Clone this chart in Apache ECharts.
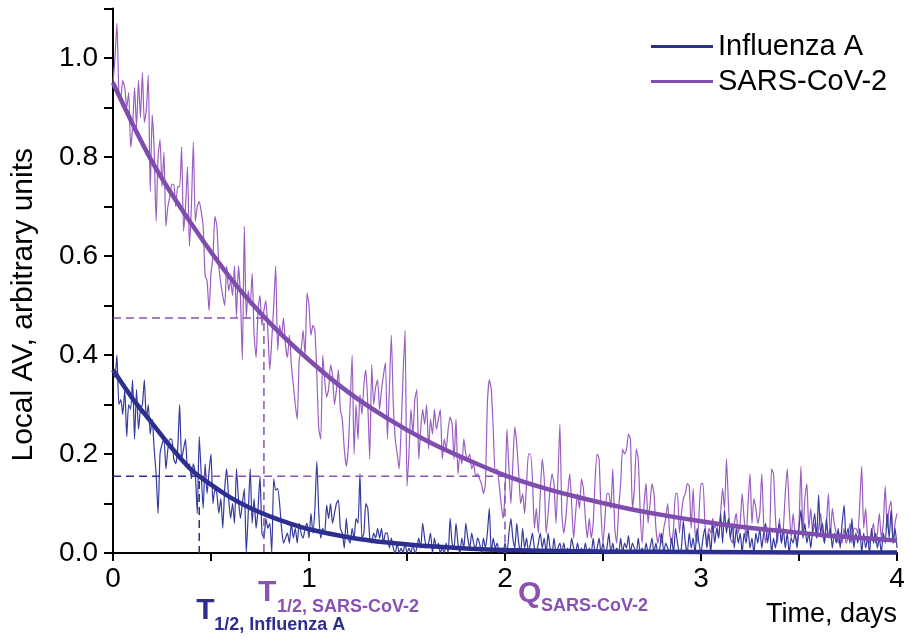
<!DOCTYPE html>
<html>
<head>
<meta charset="utf-8">
<script src="https://cdn.jsdelivr.net/npm/echarts@6/dist/echarts.min.js"></script>
<style>html,body{margin:0;padding:0;background:#fff}#c{width:910px;height:644px}</style>
</head>
<body>
<div id="c"></div>
<script>
// ---- data ----
const timeStep = 0.01; // days between noisy samples
const sarsNoise = [
.95,1.0,1.07,.93,.92,.955,.94,.90,.93,.82,
.86,.94,.86,.955,.88,.97,.87,.895,.965,.73,
.885,.815,.67,.80,.835,.74,.81,.66,.70,.72,
.745,.745,.70,.74,.74,.82,.65,.70,.78,.62,
.70,.83,.67,.70,.71,.69,.66,.56,.55,.49,
.565,.60,.68,.66,.58,.545,.52,.50,.58,.53,
.55,.52,.58,.477,.58,.52,.39,.66,.475,.53,
.50,.565,.44,.395,.49,.52,.46,.49,.51,.45,
.37,.43,.50,.58,.41,.46,.44,.475,.42,.395,
.44,.38,.34,.30,.27,.39,.41,.45,.40,.525,
.50,.44,.46,.45,.36,.25,.23,.40,.35,.315,
.33,.38,.36,.30,.33,.37,.29,.27,.21,.175,
.21,.30,.40,.20,.30,.23,.32,.28,.34,.37,
.30,.19,.38,.30,.335,.35,.29,.33,.36,.385,
.23,.33,.44,.30,.23,.20,.17,.25,.36,.45,
.135,.20,.29,.24,.31,.33,.19,.25,.29,.26,
.30,.21,.27,.24,.29,.25,.27,.29,.19,.23,
.21,.25,.275,.26,.19,.27,.16,.20,.18,.23,
.20,.19,.20,.17,.18,.155,.16,.15,.14,.12,
.14,.30,.35,.33,.25,.16,.17,.14,.10,.07,
.12,.25,.17,.10,.18,.255,.22,.16,.10,.12,
.08,.14,.20,.20,.15,.05,.09,.04,.12,.19,
.15,.04,.08,.13,.16,.14,.06,.15,.26,.08,
.04,.07,.12,.16,.10,.03,.08,.12,.09,.15,
.13,.07,.03,.07,.03,.06,.15,.20,.19,.08,
.02,.07,.12,.12,.09,.17,.05,.02,.09,.14,
.21,.20,.21,.24,.23,.09,.13,.21,.19,.08,
.02,.10,.14,.06,.10,.14,.12,.05,.02,.04,
.02,.05,.07,.10,.04,.02,.05,.12,.12,.04,
.08,.11,.12,.14,.135,.05,.13,.04,.02,.08,
.14,.14,.06,.02,.05,.04,.07,.05,.06,.03,
.08,.13,.09,.19,.10,.03,.02,.06,.08,.04,
.06,.12,.07,.03,.10,.16,.06,.11,.09,.06,
.08,.16,.06,.02,.05,.04,.17,.16,.07,.02,
.07,.02,.05,.12,.17,.09,.03,.08,.04,.02,
.06,.175,.04,.11,.14,.05,.09,.04,.06,.03,
.05,.08,.04,.02,.06,.12,.03,.09,.06,.04,
.02,.04,.02,.05,.02,.03,.06,.02,.05,.05,
.04,.10,.175,.05,.09,.03,.02,.04,.06,.02,
.04,.08,.03,.06,.135,.05,.09,.105,.02,.06,.08
];
const fluNoise = [
.36,.355,.40,.30,.31,.28,.33,.235,.30,.29,
.35,.23,.33,.25,.29,.30,.35,.27,.30,.24,
.27,.21,.16,.08,.20,.22,.23,.17,.21,.23,
.23,.19,.18,.21,.30,.19,.21,.23,.17,.18,
.15,.18,.16,.08,.235,.16,.09,.18,.12,.165,
.20,.10,.13,.12,.08,.11,.05,.13,.17,.11,
.07,.10,.06,.17,.11,.07,.10,.13,.00,.08,
.17,.06,.11,.05,.09,.155,.04,.03,.07,.05,
.06,.00,.15,.127,.13,.10,.05,.02,.03,.04,
.02,.06,.03,.05,.02,.06,.04,.03,.05,.06,
.03,.08,.04,.09,.185,.08,.03,.05,.04,.097,
.07,.10,.06,.08,.10,.107,.05,.04,.01,.07,
.03,.02,.05,.03,.07,.06,.16,.03,.04,.10,
.09,.03,.02,.04,.03,.05,.03,.05,.02,.04,
.04,.01,.03,.01,.00,.02,.00,.01,.00,.02,
.00,.01,.00,.02,.00,.01,.03,.01,.06,.03,
.01,.02,.04,.00,.03,.01,.02,.00,.01,.00,
.02,.00,.07,.02,.01,.06,.02,.00,.03,.01,
.06,.03,.01,.04,.02,.01,.03,.02,.00,.03,
.01,.04,.09,.00,.03,.01,.02,.00,.01,.00,
.02,.00,.04,.07,.03,.01,.06,.02,.00,.05,
.01,.03,.00,.02,.04,.01,.00,.02,.04,.01,
.03,.00,.04,.01,.00,.03,.00,.01,.02,.00,
.02,.00,.01,.00,.03,.01,.00,.02,.00,.01,
.00,.02,.00,.01,.00,.03,.00,.01,.03,.00,
.02,.00,.01,.04,.00,.02,.00,.01,.00,.03,
.00,.02,.01,.035,.00,.02,.01,.00,.03,.00,
.01,.00,.02,.00,.01,.03,.00,.02,.00,.01,
.04,.00,.02,.01,.00,.03,.00,.05,.02,.00,
.01,.065,.02,.00,.04,.01,.03,.00,.05,.02,
.00,.03,.05,.01,.04,.00,.06,.02,.05,.03,
.08,.02,.087,.04,.07,.03,.06,.01,.05,.02,
.04,.00,.04,.02,.05,.01,.03,.00,.04,.02,
.05,.01,.04,.06,.02,.05,.00,.03,.01,.04,
.06,.02,.05,.01,.04,.00,.03,.02,.04,.01,
.05,.087,.03,.06,.02,.04,.01,.05,.08,.03,
.117,.04,.06,.02,.07,.03,.05,.01,.04,.02,
.05,.01,.06,.097,.03,.05,.02,.07,.01,.04,
.02,.05,.00,.04,.01,.03,.00,.05,.02,.04,
.01,.03,.00,.04,.02,.08,.03,.087,.02,.05,.01
];
const sarsFitT = [0,0.2,0.4,0.6,0.8,1.0,1.2,1.4,1.6,1.8,2.0,2.2,2.4,2.6,2.8,3.0,3.2,3.4,3.6,3.8,4.0];
const sarsFit  = [0.95,0.79,0.665,0.555,0.465,0.39,0.325,0.272,0.227,0.19,0.157,0.131,0.11,0.092,0.077,0.064,0.053,0.045,0.037,0.031,0.025];
const fluFitT = [0,0.1,0.2,0.3,0.4,0.5,0.6,0.7,0.8,0.9,1.0,1.2,1.4,1.6,1.8,2.0,2.5,3.0,3.5,4.0];
const fluFit  = [0.37,0.312,0.262,0.212,0.168,0.138,0.112,0.091,0.074,0.06,0.048,0.032,0.021,0.014,0.009,0.006,0.003,0.002,0.001,0.001];
const sarsHalf = [0.77, 0.475];   // T1/2 SARS-CoV-2
const fluHalf  = [0.44, 0.155];   // T1/2 Influenza A
const sarsQ    = [2.0, 0.155];    // Q SARS-CoV-2
const xTickLabels = ['0','1','2','3','4'];
const yTickLabels = ['0.0','0.2','0.4','0.6','0.8','1.0'];
const seriesNames = ['Influenza A','SARS-CoV-2'];

// ---- styles ----
const NAVY = '#2c2f8f', NAVY_N = '#343a9e';
const PURP = '#7e4dad', PURP_N = '#9b5dc2', PURP_T = '#8a52b3';
const FONT = '"Liberation Sans", Arial, sans-serif';

const pairs = (ys) => ys.map((v, i) => [+(i * timeStep).toFixed(2), v]);
const zip = (xs, ys) => xs.map((x, i) => [x, ys[i]]);

const chart = echarts.init(document.getElementById('c'), null, {renderer: 'canvas'});
const option = {
  animation: false,
  backgroundColor: '#fff',
  textStyle: {fontFamily: FONT},
  grid: {left: 113, right: 13, top: 8.5, bottom: 91, containLabel: false},
  legend: {
    data: seriesNames, orient: 'vertical', left: 646, top: 26,
    icon: 'rect', itemWidth: 62, itemHeight: 3, itemGap: 4,
    textStyle: {fontFamily: FONT, fontSize: 29, color: '#000', lineHeight: 31}
  },
  xAxis: {
    type: 'value', min: 0, max: 4, interval: 0.5,
    name: 'Time, days', nameLocation: 'end', nameGap: 0,
    nameTextStyle: {fontFamily: FONT, fontSize: 27, color: '#000', align: 'right', verticalAlign: 'top', padding: [48, 0, 0, 0]},
    axisLine: {show: true, onZero: false, lineStyle: {color: '#000', width: 2}},
    axisTick: {show: true, length: 8, lineStyle: {color: '#000', width: 2}},
    axisLabel: {fontFamily: FONT, fontSize: 28, color: '#000', margin: 12,
      formatter: v => (Math.abs(v - Math.round(v)) < 1e-6 ? xTickLabels[Math.round(v)] : '')},
    splitLine: {show: false}
  },
  yAxis: {
    type: 'value', min: 0, max: 1.1, interval: 0.1,
    name: 'Local AV, arbitrary units', nameLocation: 'middle', nameGap: 74,
    nameTextStyle: {fontFamily: FONT, fontSize: 30, color: '#000', padding: [0, 48, 0, 0]},
    axisLine: {show: true, lineStyle: {color: '#000', width: 2}},
    axisTick: {show: true, length: 9, lineStyle: {color: '#000', width: 2}},
    axisLabel: {fontFamily: FONT, fontSize: 28, color: '#000', margin: 15,
      formatter: v => { const k = Math.round(v * 10); return k % 2 === 0 ? yTickLabels[k / 2] : ''; }},
    splitLine: {show: false}
  },
  series: [
    {name: 'SARS-CoV-2 data', type: 'line', data: pairs(sarsNoise), showSymbol: false, smooth: 0.2,
      lineStyle: {color: PURP_N, width: 1.2}, itemStyle: {color: PURP_N}, z: 2, silent: true},
    {name: 'Influenza A data', type: 'line', data: pairs(fluNoise), showSymbol: false, smooth: 0.2,
      lineStyle: {color: NAVY_N, width: 1.2}, itemStyle: {color: NAVY_N}, z: 3, silent: true},
    {name: 'sarsHalfLines', type: 'line', showSymbol: false,
      data: [[0, sarsHalf[1]], sarsHalf, [sarsHalf[0], 0]],
      lineStyle: {color: PURP_T, width: 1.5, type: [8, 5]}, z: 4, silent: true},
    {name: 'qLines', type: 'line', showSymbol: false,
      data: [[fluHalf[0], sarsQ[1]], sarsQ, [sarsQ[0], 0]],
      lineStyle: {color: PURP_T, width: 1.5, type: [8, 5]}, z: 4, silent: true},
    {name: 'fluHalfLines', type: 'line', showSymbol: false,
      data: [[0, fluHalf[1]], fluHalf, [fluHalf[0], 0]],
      lineStyle: {color: NAVY, width: 1.5, type: [8, 5]}, z: 4, silent: true},
    {name: seriesNames[0], type: 'line', data: zip(fluFitT, fluFit), showSymbol: false, smooth: 0.35,
      lineStyle: {color: NAVY, width: 4.5}, itemStyle: {color: NAVY}, z: 6},
    {name: seriesNames[1], type: 'line', data: zip(sarsFitT, sarsFit), showSymbol: false, smooth: 0.35,
      lineStyle: {color: PURP, width: 4.5}, itemStyle: {color: PURP}, z: 6}
  ]
};
chart.setOption(option);

// annotations anchored to the data positions
function px(x, y) { return chart.convertToPixel({gridIndex: 0}, [x, y]); }
const pF = px(fluHalf[0], 0), pS = px(sarsHalf[0], 0), pQ = px(sarsQ[0], 0);
const big = (t, x, y, c) => ({type: 'text', x: x, y: y, style: {text: t, fill: c, font: 'bold 30px ' + FONT, textAlign: 'left', textVerticalAlign: 'middle'}});
const sub = (t, x, y, c) => ({type: 'text', x: x, y: y, style: {text: t, fill: c, font: 'bold 18px ' + FONT, textAlign: 'left', textVerticalAlign: 'middle'}});
chart.setOption({
  graphic: [
    big('T', pF[0] - 3, pF[1] + 58, NAVY),
    sub('1/2, Influenza A', pF[0] + 15, pF[1] + 72, NAVY),
    big('T', pS[0] - 6, pS[1] + 40, PURP_T),
    sub('1/2, SARS-CoV-2', pS[0] + 13, pS[1] + 54, PURP_T),
    big('Q', pQ[0] + 13, pQ[1] + 41, PURP_T),
    sub('SARS-CoV-2', pQ[0] + 36, pQ[1] + 53, PURP_T)
  ]
});
</script>
</body>
</html>
